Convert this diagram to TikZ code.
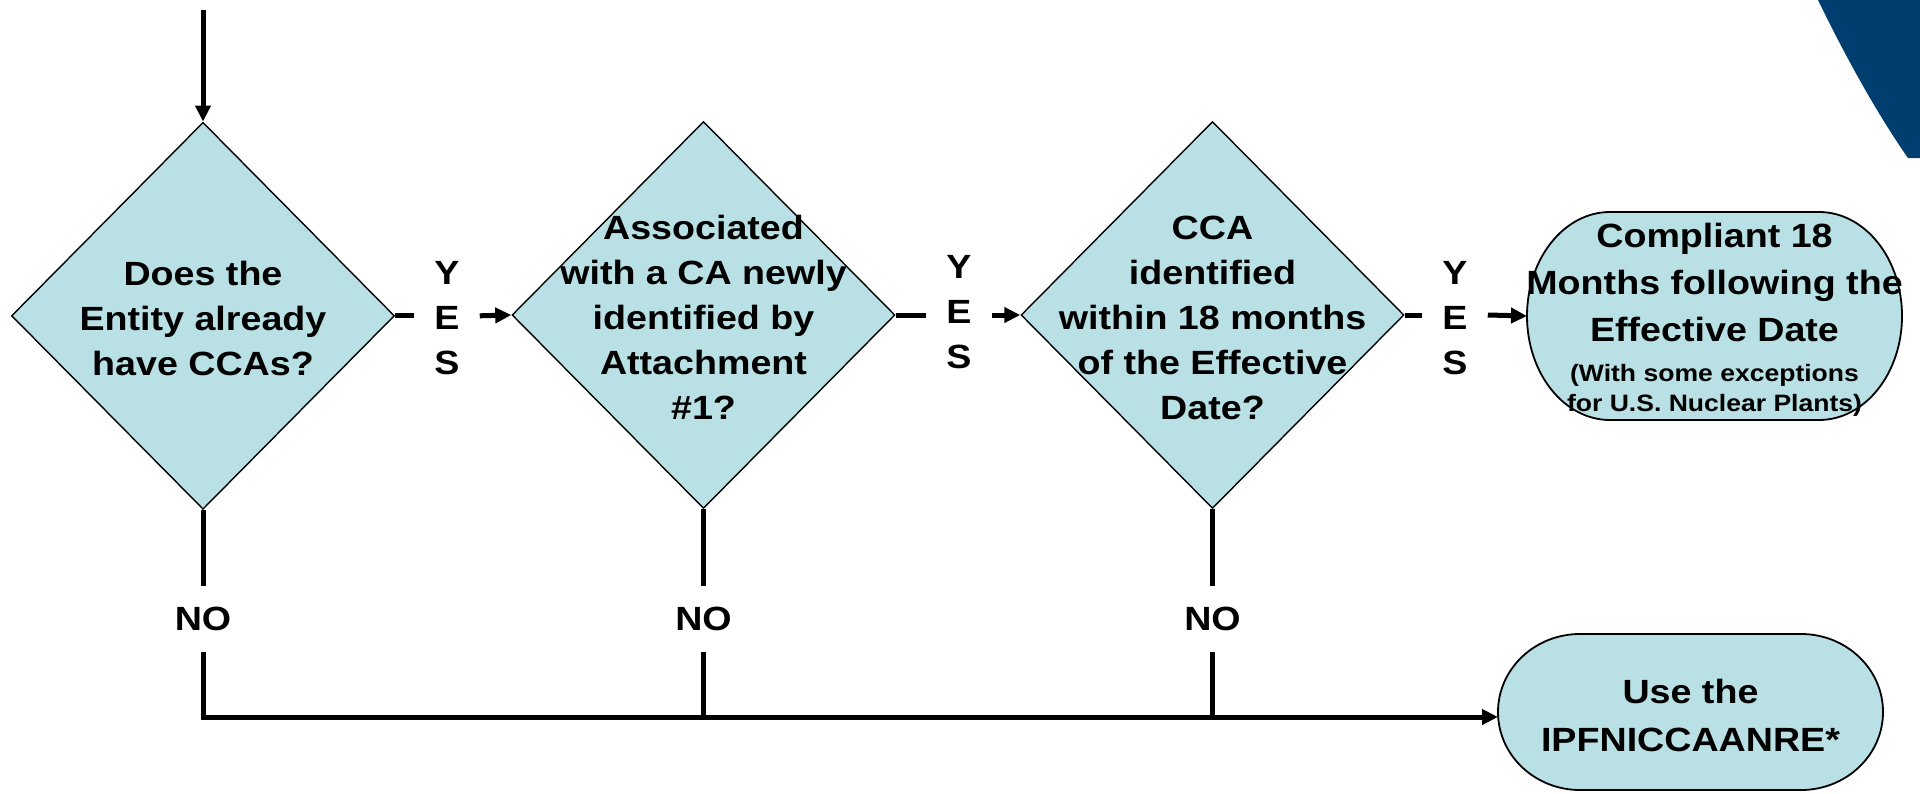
\documentclass[tikz,border=0pt]{standalone}
\usepackage{fontspec}
\newfontfamily\arb{Liberation Sans Bold}[FakeStretch=1.12]
\newcommand\smallarb{\fontsize{23.7bp}{30bp}\selectfont}
\usetikzlibrary{arrows.meta,shapes.geometric,backgrounds}
\definecolor{boxfill}{RGB}{185,224,228}
\definecolor{navy}{RGB}{0,62,112}
\tikzset{
  big/.style={font=\arb\fontsize{33.6bp}{45bp}\selectfont},
  dia/.style={diamond, draw=black, line width=1.4bp, fill=boxfill, minimum width=383bp, minimum height=387bp, inner sep=0pt},
  diatext/.style={big, align=center, yshift=-2.5bp, inner sep=0pt},
  term/.style={rectangle, draw=none, inner sep=0pt, outer sep=0pt},
  termshape/.style={draw=black, line width=1.8bp, fill=boxfill},
  comptext/.style={font=\arb\fontsize{33.6bp}{47bp}\selectfont, align=center, yshift=-4bp, inner sep=0pt},
  usetext/.style={font=\arb\fontsize{33.6bp}{48bp}\selectfont, align=center, yshift=-3bp, inner sep=0pt},
  yesn/.style={big, align=center, inner xsep=20bp, inner ysep=0pt},
  non/.style={big, inner xsep=0pt, inner ysep=21bp},
  conn/.style={line width=5bp},
  arr/.style={conn, -{Triangle[length=16bp,width=15bp]}},
}
\begin{document}
\begin{tikzpicture}[x=1bp,y=1bp]
\useasboundingbox (0,0) rectangle (1920,-794);
% corner decoration
\fill[navy] (1818,0) .. controls (1848,-62) and (1880,-118) .. (1908,-158) -- (1920,-158) -- (1920,0) -- cycle;

\coordinate (start) at (203,-10);
\node[dia, label={[diatext]center:{Does the\\Entity already\\have CCAs?}}] (d1) at (203,-315.8) {};
\node[dia, label={[diatext]center:{Associated\\with a CA newly\\identified by\\Attachment\\\#1?}}] (d2) at (703.5,-315) {};
\node[dia, label={[diatext]center:{CCA\\identified\\within 18 months\\of the Effective\\Date?}}] (d3) at (1212.5,-315) {};

\node[term, minimum width=375bp, minimum height=208bp,
  label={[comptext]center:{Compliant 18\\Months following the\\Effective Date\\[-7bp]\smallarb (With some exceptions\\[-17bp]\smallarb for U.S. Nuclear Plants)}}] (comp) at (1714.5,-316) {};
\node[term, minimum width=385bp, minimum height=156bp,
  label={[usetext]center:{Use the\\IPFNICCAANRE*}}] (use) at (1690.5,-712) {};

\begin{scope}[on background layer]
\draw[termshape] ([xshift=83bp]comp.north west) -- ([xshift=-83bp]comp.north east)
  arc[start angle=90,end angle=-90,x radius=83bp,y radius=104bp]
  -- ([xshift=83bp]comp.south west)
  arc[start angle=270,end angle=90,x radius=83bp,y radius=104bp] -- cycle;
\draw[termshape] ([xshift=82bp]use.north west) -- ([xshift=-82bp]use.north east)
  arc[start angle=90,end angle=-90,x radius=82bp,y radius=78bp]
  -- ([xshift=82bp]use.south west)
  arc[start angle=270,end angle=90,x radius=82bp,y radius=78bp] -- cycle;
\end{scope}

\node[yesn] (yes1) at (447,-318.5) {Y\\E\\S};
\node[yesn] (yes2) at (959,-312) {Y\\E\\S};
\node[yesn] (yes3) at (1455,-318.5) {Y\\E\\S};

\node[non] (no1) at (203,-619) {NO};
\node[non] (no2) at (703.5,-619) {NO};
\node[non] (no3) at (1212.5,-619) {NO};
\coordinate (corner) at (203,-717);

\draw[arr] (start) -- (d1.north);
\draw[conn] (d1.east) -- (d1.east -| yes1.west);
\draw[arr] (d1.east -| yes1.east) -- (d2.west);
\draw[conn] (d2.east) -- (d2.east -| yes2.west);
\draw[arr] (d2.east -| yes2.east) -- (d3.west);
\draw[conn] (d3.east) -- (d3.east -| yes3.west);
\draw[arr] (d3.east -| yes3.east) -- (comp.west);

\draw[conn] (d1.south) -- (no1.north);
\draw[conn] (d2.south) -- (no2.north);
\draw[conn] (d3.south) -- (no3.north);
\draw[arr] (no1.south) -- (corner) -- (corner -| use.west);
\draw[conn] (no2.south) -- (no2.south |- corner);
\draw[conn] (no3.south) -- (no3.south |- corner);
\end{tikzpicture}
\end{document}
